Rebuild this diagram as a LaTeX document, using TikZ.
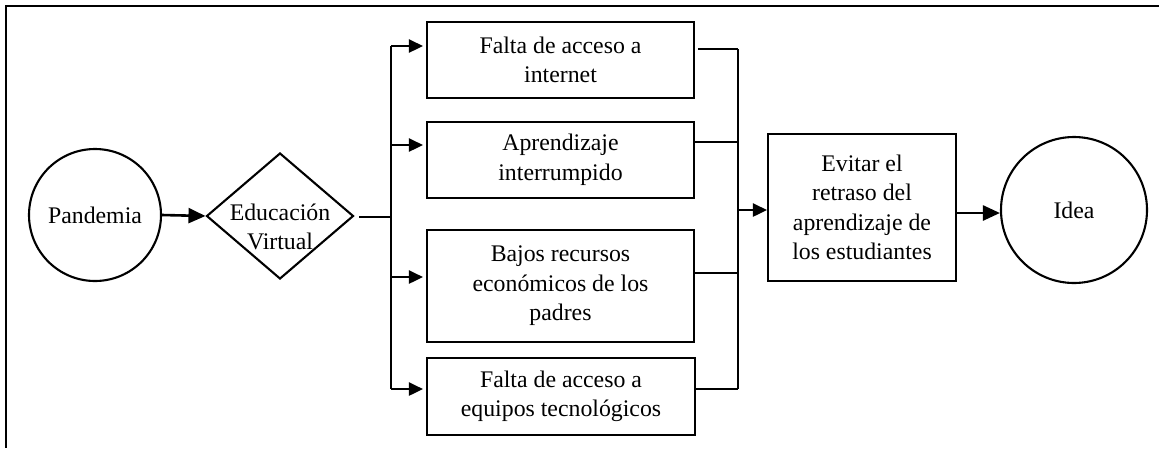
\documentclass[tikz,border=0pt]{standalone}
\usepackage{fontspec}
\setmainfont{Liberation Serif}
\usetikzlibrary{shapes.geometric,arrows.meta}
\begin{document}
\begin{tikzpicture}[x=1pt,y=-1pt,
  every node/.style={font=\fontsize{23.8}{29.5}\selectfont, align=center},
  box/.style={draw, line width=2.1pt, inner sep=0pt},
  circ/.style={draw, circle, line width=2.1pt, inner sep=0pt},
  thin line/.style={line width=1.1pt},
  bigarrow/.style={line width=2.6pt, -{Triangle[length=17pt,width=15pt]}},
  smallarrow/.style={line width=2.6pt, -{Triangle[length=14pt,width=13pt]}}]
\useasboundingbox (0,0) rectangle (1159,448);
% frame (top and left only)
\draw[line width=2.8pt] (1159,6) -- (6,6) -- (6,448);
% nodes
\node[circ, minimum size=132pt] (pan) at (95,215) {Pandemia};
\node[draw, diamond, line width=2.1pt, inner sep=0pt, minimum width=147pt, minimum height=126pt] (ed) at (280,216) {};
\node (edt) at (280,227) {Educación\\Virtual};
\node[box, minimum width=267pt, minimum height=76pt] (b1) at (560.5,60) {Falta de acceso a\\internet};
\node[box, minimum width=267pt, minimum height=76pt] (b2) at (560.5,160) {Aprendizaje\\interrumpido};
\node[box, minimum width=267pt, minimum height=112pt] (b3) at (560.5,286) {Bajos recursos\\económicos de los\\padres};
\node[box, minimum width=268pt, minimum height=77pt] (b4) at (561,396.5) {Falta de acceso a\\equipos tecnológicos};
\node[box, minimum width=188pt, minimum height=147pt] (ev) at (862,207.5) {Evitar el\\retraso del\\aprendizaje de\\los estudiantes};
\node[circ, minimum size=146pt] (idea) at (1074,210) {Idea};
% coordinates for bus
\coordinate (sL) at (359,217);
\coordinate (bus) at (391,217);
\coordinate (a1) at (391,46);
\coordinate (a2) at (391,145);
\coordinate (a3) at (391,277);
\coordinate (a4) at (391,389);
\coordinate (r1) at (738,49);
\coordinate (r2) at (738,142);
\coordinate (r3) at (738,273);
\coordinate (r4) at (738,389);
% connectors
\draw[bigarrow] (pan.east) -- (ed.west);
\draw[thin line] (sL) -- (bus);
\draw[thin line] (a1) -- (a4);
\draw[smallarrow] (a1) -- ([xshift=-3pt]a1 -| b1.west);
\draw[smallarrow] (a2) -- ([xshift=-3pt]a2 -| b2.west);
\draw[smallarrow] (a3) -- ([xshift=-3pt]a3 -| b3.west);
\draw[smallarrow] (a4) -- ([xshift=-3pt]a4 -| b4.west);
\draw[thin line] ([xshift=3pt]r1 -| b1.east) -- (r1);
\draw[thin line] (r2 -| b2.east) -- (r2);
\draw[thin line] (r3 -| b3.east) -- (r3);
\draw[thin line] (r4 -| b4.east) -- (r4);
\draw[thin line] (r1) -- (r4);
\draw[smallarrow] (738,210) -- (ev.west |- 0,210);
\draw[bigarrow] (ev.east |- 0,213) -- (idea.west |- 0,213);
\end{tikzpicture}
\end{document}
